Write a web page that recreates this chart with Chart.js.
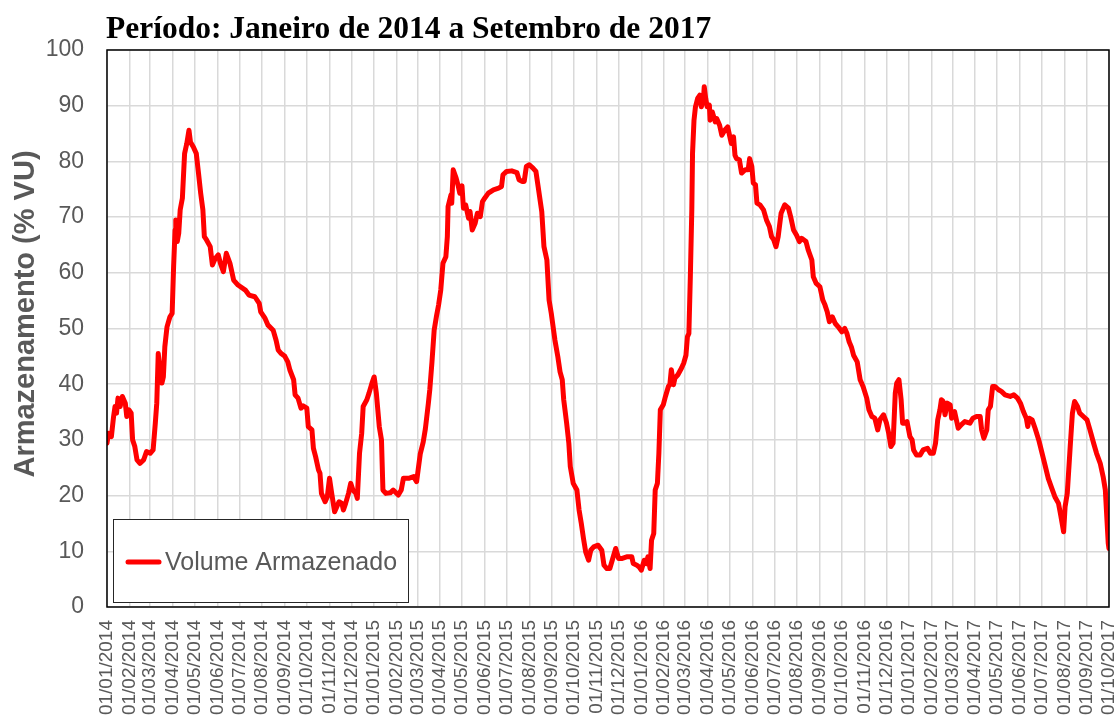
<!DOCTYPE html>
<html><head><meta charset="utf-8">
<script src="https://cdn.jsdelivr.net/npm/chart.js@4/dist/chart.umd.min.js"></script>
<style>html,body{margin:0;padding:0;background:#fff;}#wrap{width:1118px;height:718px;position:relative;}</style>
</head><body><div id="wrap"><canvas id="c" width="1118" height="718"></canvas></div>
<script>
const chartTitle = "Período: Janeiro de 2014 a Setembro de 2017";
const yAxisTitle = "Armazenamento (% VU)";
const seriesLabel = "Volume Armazenado";
const tickLabels = ["01/01/2014","01/02/2014","01/03/2014","01/04/2014","01/05/2014","01/06/2014","01/07/2014","01/08/2014","01/09/2014","01/10/2014","01/11/2014","01/12/2014",
"01/01/2015","01/02/2015","01/03/2015","01/04/2015","01/05/2015","01/06/2015","01/07/2015","01/08/2015","01/09/2015","01/10/2015","01/11/2015","01/12/2015",
"01/01/2016","01/02/2016","01/03/2016","01/04/2016","01/05/2016","01/06/2016","01/07/2016","01/08/2016","01/09/2016","01/10/2016","01/11/2016","01/12/2016",
"01/01/2017","01/02/2017","01/03/2017","01/04/2017","01/05/2017","01/06/2017","01/07/2017","01/08/2017","01/09/2017","01/10/2017"];
// days since 01/01/2014
const days = [0,2,6,9,11,13,15,18,21,25,27,30,33,35,38,41,45,50,54,59,63,66,68,70,72,75,77,79,82,86,89,91,93,94,96,98,100,103,106,109,112,114,118,122,125,128,131,133,136,141,144,148,152,155,159,163,168,173,179,189,194,202,208,210,216,220,227,231,234,238,243,247,250,255,257,261,265,268,273,275,280,282,285,289,291,293,298,301,304,307,311,314,317,321,323,326,330,333,336,340,342,345,348,350,355,358,362,365,368,372,375,377,381,387,391,398,402,405,412,419,423,425,428,432,435,439,441,444,447,450,453,456,459,463,465,466,470,471,473,477,480,482,485,487,490,494,496,499,503,506,510,513,516,521,528,535,539,541,546,553,560,563,567,570,573,577,582,586,589,594,597,601,604,607,612,616,619,622,624,628,631,633,637,642,645,648,651,654,658,661,665,671,676,679,683,687,691,695,699,703,710,717,719,724,727,730,734,737,739,742,744,747,749,752,754,756,760,763,767,769,771,774,776,780,785,788,791,793,795,797,799,800,802,804,807,810,812,815,816,818,820,823,824,827,831,833,837,840,844,848,851,853,856,858,860,864,867,872,876,878,881,883,886,888,892,897,901,905,908,911,914,917,921,926,931,934,938,942,946,949,955,958,963,965,969,974,978,981,984,987,991,995,999,1004,1008,1011,1014,1017,1020,1025,1029,1033,1038,1041,1045,1049,1053,1056,1061,1065,1068,1071,1074,1077,1079,1082,1085,1087,1090,1093,1097,1100,1102,1106,1111,1115,1121,1125,1129,1132,1135,1138,1140,1142,1145,1148,1152,1154,1158,1163,1167,1172,1179,1183,1188,1193,1195,1198,1202,1204,1207,1210,1213,1218,1222,1227,1234,1239,1244,1248,1252,1256,1258,1260,1264,1268,1273,1277,1281,1286,1290,1295,1300,1303,1307,1309,1312,1316,1319,1322,1326,1329,1334,1339,1343,1348,1352,1357,1361,1364,1366,1368,1369];
const volume = [29.4,31.2,30.6,34.2,36,34.8,37.5,36,37.8,36.6,34.2,35.4,34.8,30,28.8,26.4,25.8,26.4,27.9,27.6,28.2,33,36.6,45.5,43.1,40.2,41.3,46.7,50.3,52.1,52.7,61.1,67.7,69.5,65.6,67.1,71.3,73.4,81.4,83.2,85.6,83.5,82.6,81.4,77.9,74.3,71.3,66.5,65.9,64.7,61.4,62.6,63.2,61.7,60.2,63.5,61.7,58.7,57.8,56.9,56.0,55.7,54.5,53.0,51.8,50.6,49.7,47.9,46.1,45.5,45.0,44.0,42.5,40.8,38.1,37.5,35.7,36.1,35.7,32.4,31.8,28.5,27.0,24.6,24.0,20.4,18.9,19.8,23.1,20.4,17.1,18.0,18.9,18.6,17.4,18.6,20.4,22.2,21.0,20.4,19.5,27.6,31.2,36.0,37.2,38.4,40.2,41.3,38.4,32.4,30.0,21.0,20.4,20.5,21.0,20.1,21.0,23.1,23.1,23.4,22.5,24.5,27.5,29.6,32,36.5,39,44,49.7,52.1,54.2,56.9,61.7,62.9,66.5,71.9,74.0,72.5,78.5,77.0,75.5,74.3,75.6,71.6,72.2,69.8,71.0,67.7,68.9,70.7,70.1,72.8,73.4,74.3,74.9,75.2,75.5,77.6,78.2,78.3,78.0,76.7,76.4,76.4,79.1,79.4,78.8,78.2,75.5,71.0,64.7,62.3,55.1,52.7,47.9,44.9,42.2,40.8,37.2,33.0,29.4,25.2,22.2,21.0,17.4,15.0,12.3,9.9,8.4,10.2,10.8,11.1,10.2,7.5,6.9,6.9,8.7,10.5,8.7,8.7,9.0,9.0,7.8,7.5,7.2,6.6,8.4,7.8,9.0,6.9,12.0,13.2,21.0,22.2,27.6,35.4,36.3,37.8,39.6,39.9,42.6,39.9,41.1,41.7,42.9,43.8,45.2,48.5,49.1,59.3,71.3,81.5,87.4,89.8,91.3,91.9,89.8,91.3,93.4,91.3,89.8,90.1,87.4,88.9,87.1,87.7,86.5,84.7,85.6,86.2,84.4,83.2,84.4,81.1,80.5,80.3,77.9,78.5,78.5,80.5,79.1,76.1,75.8,72.5,72.2,71.3,69.5,68.3,66.5,65.9,64.7,66.5,70.7,72.2,71.6,70.1,67.7,66.8,65.6,66.2,65.6,64.1,62.3,59.3,58.1,57.5,55.1,54.2,53.0,51.2,52.1,50.9,50.3,49.4,50.0,49.1,47.6,46.7,45.2,44.0,40.8,39.6,37.5,35.4,34.2,33.9,31.8,33.6,34.5,33.0,31.2,28.8,29.4,38.4,40.2,40.8,37.2,33.0,33.0,33.3,30.6,30.0,28.2,27.3,27.3,28.2,28.5,27.6,27.6,29.4,33.6,35.4,37.2,37.0,34.5,36.6,36.3,33.9,35.1,32.1,32.7,33.3,33.0,33.9,34.2,34.2,31.8,30.3,31.8,35.4,36.0,39.6,39.6,39.0,38.7,38.1,37.8,38.1,37.5,36.6,35.1,33.9,32.4,33.9,33.6,32.1,30.0,27.9,25.8,23.1,21.6,19.8,18.6,16.5,13.5,18.0,20.4,28.8,34.8,36.9,36.0,34.8,34.2,33.6,31.8,29.4,27.6,25.8,23.4,21.0,16.2,11.4,10.5];

const t0 = Date.UTC(2014,0,1);
const tickDays = tickLabels.map(s => { const [d,m,y] = s.split('/').map(Number); return Math.round((Date.UTC(y,m-1,d)-t0)/86400000); });
const points = days.map((d,i) => ({x:d, y:volume[i]}));

const gray = '#595959';
const decor = {
  id:'decor',
  afterDatasetsDraw(chart){
    const {ctx, chartArea:a} = chart;
    ctx.save();
    ctx.strokeStyle = '#000'; ctx.lineWidth = 1.5;
    ctx.strokeRect(a.left, a.top, a.right-a.left, a.bottom-a.top);
    // legend box
    const lx=113, ly=519, lw=295, lh=83;
    ctx.fillStyle='#fff'; ctx.fillRect(lx,ly,lw,lh);
    ctx.strokeStyle='#262626'; ctx.lineWidth=1; ctx.strokeRect(lx+0.5,ly+0.5,lw,lh);
    const ds = chart.data.datasets[0];
    ctx.strokeStyle = ds.borderColor; ctx.lineWidth = 5; ctx.lineCap='round';
    ctx.beginPath(); ctx.moveTo(128,562); ctx.lineTo(159,562); ctx.stroke();
    ctx.fillStyle = gray; ctx.font = '25px "Liberation Sans", Arial, sans-serif';
    ctx.textBaseline='middle'; ctx.textAlign='left';
    ctx.fillText(ds.label, 165, 563);
    // title
    ctx.fillStyle='#000'; ctx.font='bold 31.5px "Liberation Serif", "Times New Roman", serif';
    ctx.textBaseline='alphabetic';
    ctx.fillText(chartTitle, 106, 38);
    // y title
    ctx.translate(26, 314); ctx.rotate(-Math.PI/2);
    ctx.fillStyle=gray; ctx.font='bold 29px "Liberation Sans", Arial, sans-serif';
    ctx.textAlign='center'; ctx.textBaseline='middle';
    ctx.fillText(yAxisTitle, 0, 0);
    ctx.restore();
  }
};

new Chart(document.getElementById('c'), {
  type:'line',
  data:{ datasets:[{ label: seriesLabel, data: points, borderColor:'#ff0000', borderWidth:5, pointRadius:0, tension:0, fill:false, borderJoinStyle:'round', borderCapStyle:'round' }]},
  options:{
    responsive:false, animation:false, devicePixelRatio:1,
    layout:{ padding:{ left:0, top:50, right:9, bottom:0 } },
    plugins:{ legend:{display:false}, title:{display:false}, tooltip:{enabled:false} },
    scales:{
      x:{ type:'linear', min:0, max:tickDays[tickDays.length-1],
        afterBuildTicks(s){ s.ticks = tickDays.map(v=>({value:v})); },
        afterFit(s){ s.height = 111; s.paddingLeft = 0; s.paddingRight = 0; },
        ticks:{ autoSkip:false, minRotation:90, maxRotation:90, padding:13, color:gray,
          font:{ family:'"Liberation Sans", Arial, sans-serif', size:19 },
          callback:(v,i)=> tickLabels[i] },
        grid:{ color:'#d9d9d9', lineWidth:1.5, drawTicks:false }, border:{display:false} },
      y:{ min:0, max:100,
        afterFit(s){ s.width = 107; s.paddingTop = 0; s.paddingBottom = 0; },
        ticks:{ stepSize:10, padding:23, color:gray, font:{ family:'"Liberation Sans", Arial, sans-serif', size:23 } },
        grid:{ color:'#d9d9d9', lineWidth:1.5, drawTicks:false }, border:{display:false} }
    }
  },
  plugins:[decor]
});
</script></body></html>
